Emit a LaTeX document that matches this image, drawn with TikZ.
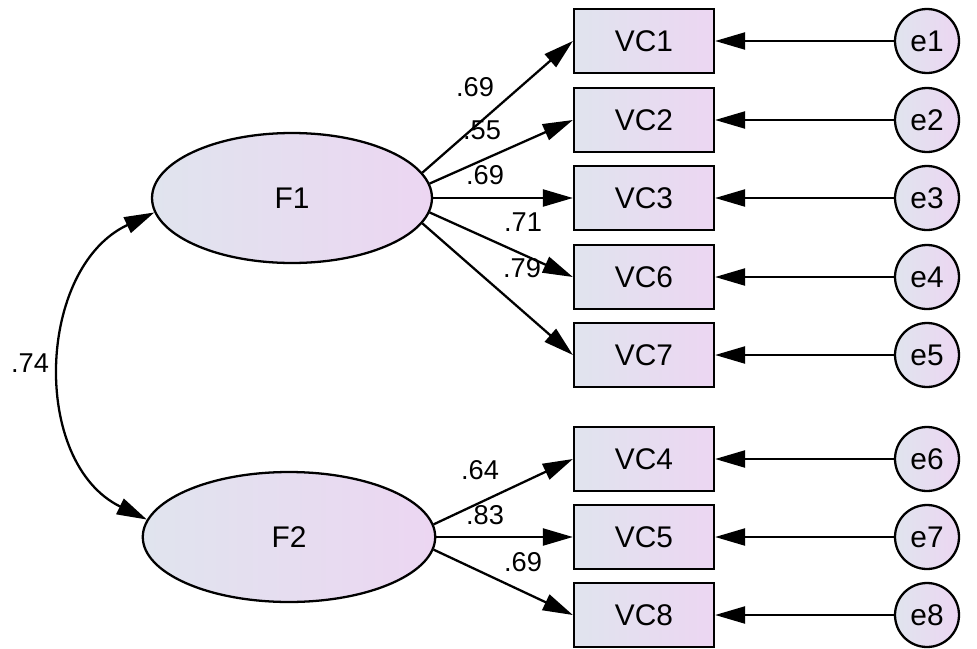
\documentclass[tikz,border=0pt]{standalone}
\usepackage{fontspec}
\setmainfont{Liberation Sans}
\usepackage{tikz}
\usetikzlibrary{shapes,arrows,positioning,calc,arrows.meta}

\definecolor{fillL}{RGB}{224,228,238}
\definecolor{fillR}{RGB}{236,214,242}

\begin{document}
\begin{tikzpicture}[x=0.02cm, y=-0.02cm, line width=1.3pt,
        >={Triangle[length=0.6cm,width=0.34cm]},
        latent/.style={ellipse, draw, left color=fillL, right color=fillR, inner sep=0pt,
            minimum height=2.6cm, font=\fontsize{17}{19}\selectfont},
        observed/.style={rectangle, draw, left color=fillL, right color=fillR,
            minimum width=2.8cm, minimum height=1.28cm, font=\fontsize{17}{19}\selectfont},
        err/.style={circle, draw, left color=fillL, right color=fillR, inner sep=0pt,
            minimum size=1.28cm, font=\fontsize{17}{19}\selectfont},
        load/.style={inner sep=0pt, font=\fontsize{15.5}{17}\selectfont}]
        \useasboundingbox (0,0) rectangle (977,649);
        \node[latent, minimum width=5.6cm] (F1) at (292,198) {F1};
        \node[latent, minimum width=5.85cm] (F2) at (289,537) {F2};
        \foreach \v/\e/\y in {1/1/41, 2/2/120, 3/3/198, 6/4/277, 7/5/355, 4/6/459, 5/7/537, 8/8/615} {
            \node[observed] (VC\v) at (644,\y) {VC\v};
            \node[err] (e\e) at (927,\y) {e\e};
            \draw[->] (e\e) -- (VC\v);
        }
        \draw[->] (F1.11) -- (VC1.west);
        \draw[->] (F1.6) -- (VC2.west);
        \draw[->] (F1.0) -- (VC3.west);
        \draw[->] (F1.-6) -- (VC6.west);
        \draw[->] (F1.-11) -- (VC7.west);
        \draw[->] (F2.5.5) -- (VC4.west);
        \draw[->] (F2.0) -- (VC5.west);
        \draw[->] (F2.-5.5) -- (VC8.west);
        \draw[<->] (F1.186) to[out=205, in=154, looseness=1.08] (F2.173);
        \node[load] (l1) at (475,87) {.69};
        \node[load] (l2) at (482,130) {.55};
        \node[load] (l3) at (485,175) {.69};
        \node[load] (l6) at (523,222) {.71};
        \node[load] (l7) at (522,268) {.79};
        \node[load] (l4) at (480,470) {.64};
        \node[load] (l5) at (485,515) {.83};
        \node[load] (l8) at (523,562) {.69};
        \node[load] (cov) at (30,363) {.74};
    \end{tikzpicture}
\end{document}
